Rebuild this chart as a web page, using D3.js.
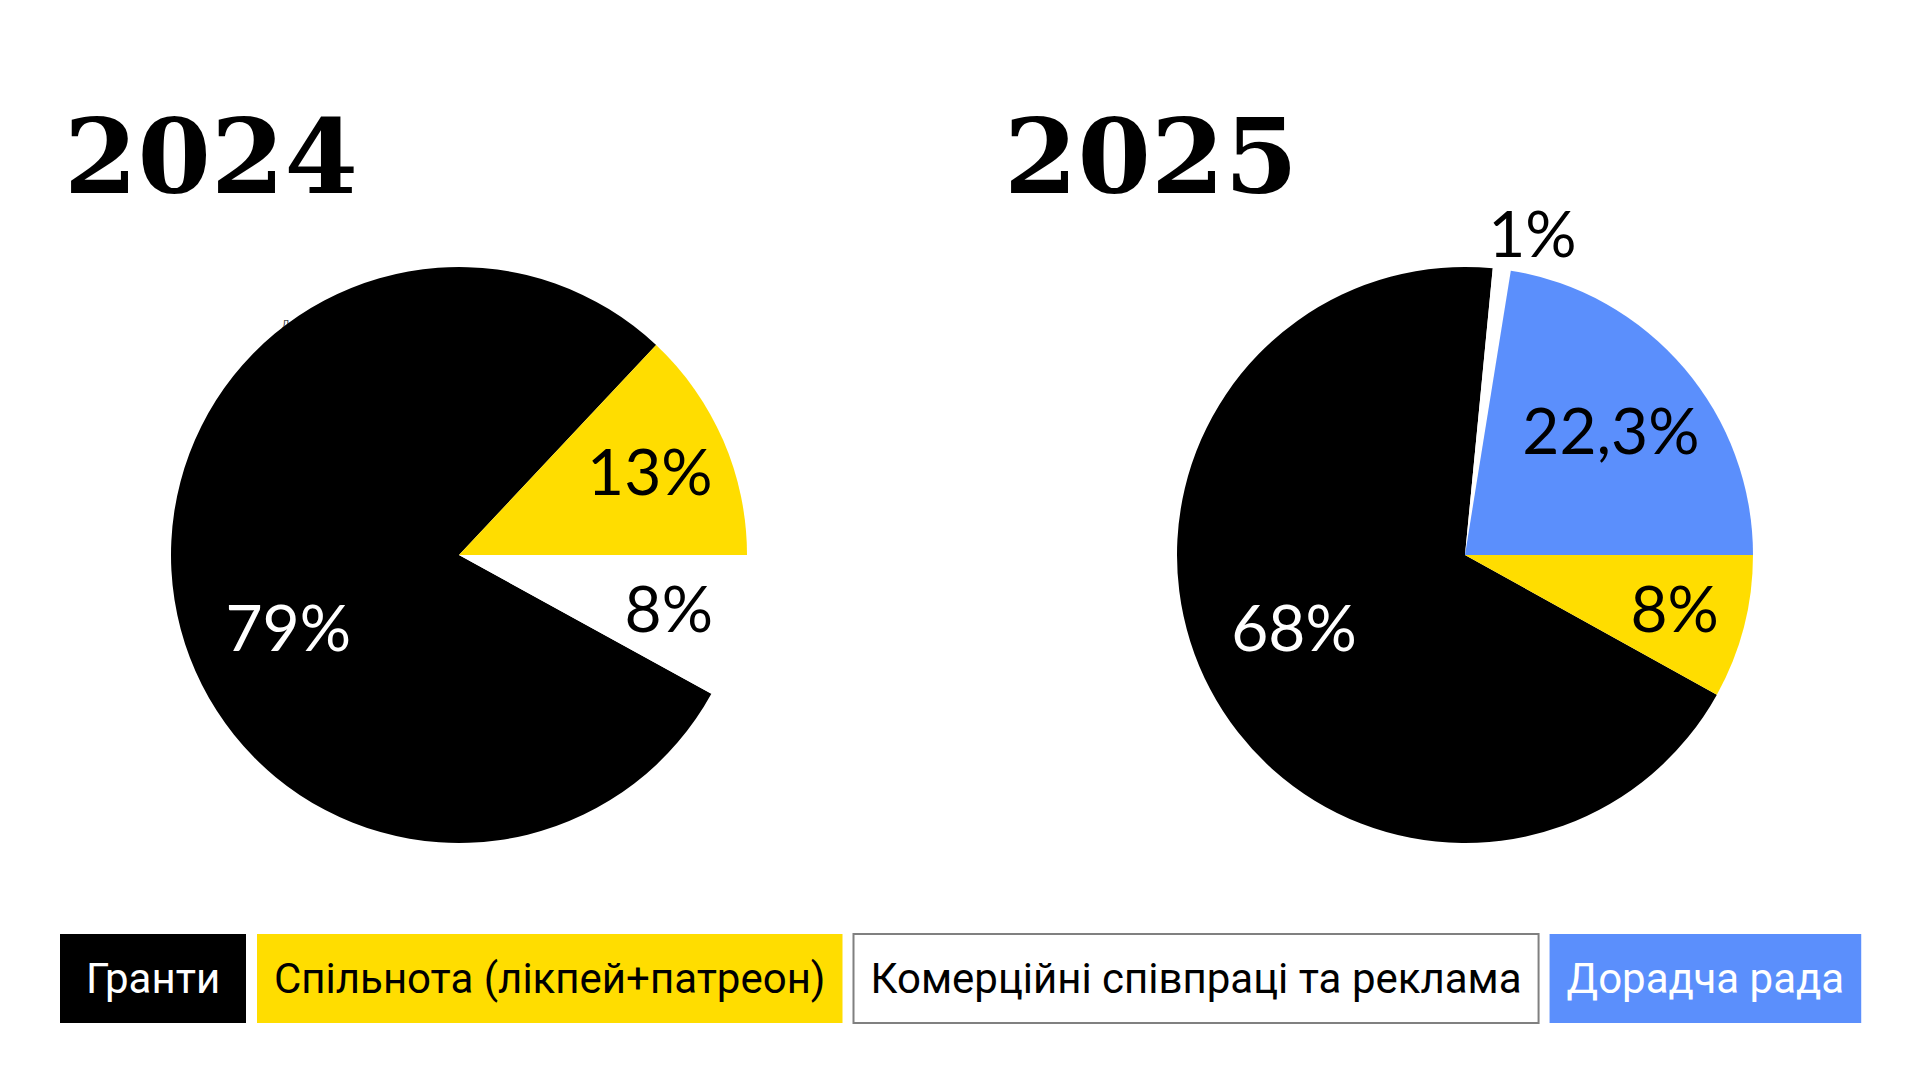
<!DOCTYPE html>
<html>
<head>
<meta charset="utf-8">
<script src="https://cdn.jsdelivr.net/npm/d3@7"></script>
<style>
    body { margin: 0; background: #ffffff; }
    svg { display: block; }
</style>
</head>
<body>
<div id="graph"></div>
<script>

// Données
const categories = ["Гранти", "Спільнота (лікпей+патреон)", "Комерційні співпраці та реклама", "Дорадча рада"];
const sliceColors = ["#000000", "#ffdd00", "#ffffff", "#5b8ffc"];
const legendTextColors = ["#ffffff", "#000000", "#000000", "#ffffff"];

const years = ["2024", "2025"];
const values2024 = [79, 13, 8, 0];
const values2025 = [68, 8, 1, 22.3];
const labels2024 = ["79%", "13%", "8%", ""];
const labels2025 = ["68%", "8%", "1%", "22,3%"];

// ordre des parts dans le sens horaire à partir de 3 heures
const order2024 = [2, 0, 1, 3];
const order2025 = [1, 0, 2, 3];

//---------------------------------------------------------------------------------------

// Canevas
const width = 1920;
const height = 1080;

const svg = d3.select("#graph")
    .append("svg")
    .attr("width", width)
    .attr("height", height)
    .attr("viewBox", [0, 0, width, height]);

const radius = 288;
const centerY = 555;
const centers = [459, 1465];
const titleX = [64, 1004];

const pies = [
    { year: years[0], values: values2024, labels: labels2024, order: order2024 },
    { year: years[1], values: values2025, labels: labels2025, order: order2025 }
];

// petit libellé résiduel à gauche du camembert 2024 (caché sous la part noire)
svg.append("text")
    .attr("x", 282)
    .attr("y", 328)
    .attr("font-family", "Roboto, sans-serif")
    .attr("font-size", 10)
    .attr("fill", "#444")
    .text("Дорадча рада");

//---------------------------------------------------------------------------------------

// Camemberts
const arc = d3.arc().innerRadius(0).outerRadius(radius);

pies.forEach((p, k) => {

    const tidy = p.values.map((v, i) => ({ i: i, value: v, label: p.labels[i] }));

    const pie = d3.pie()
        .value(d => d.value)
        .sort((a, b) => p.order.indexOf(a.i) - p.order.indexOf(b.i))
        .startAngle(Math.PI / 2)
        .endAngle(Math.PI / 2 + 2 * Math.PI);

    const arcs = pie(tidy);

    // titre (année)
    svg.append("text")
        .attr("x", titleX[k])
        .attr("y", 193)
        .attr("font-family", "'DejaVu Serif', serif")
        .attr("font-weight", "bold")
        .attr("font-size", 102)
        .attr("textLength", 294)
        .attr("lengthAdjust", "spacingAndGlyphs")
        .attr("fill", "#000")
        .text(p.year);

    const g = svg.append("g")
        .attr("transform", `translate(${centers[k]}, ${centerY})`);

    g.selectAll("path")
        .data(arcs.filter(d => d.data.value > 0))
        .join("path")
        .attr("d", arc)
        .attr("fill", d => sliceColors[d.data.i]);

    // étiquettes
    g.selectAll("text")
        .data(arcs.filter(d => d.data.label !== ""))
        .join("text")
        .attr("transform", d => {
            const share = (d.endAngle - d.startAngle) / (2 * Math.PI);
            let a, r;
            if (share > 0.5) {
                a = d.startAngle + 128 * Math.PI / 180;
                r = radius * 0.645;
            } else if (share < 0.03) {
                a = (d.startAngle + d.endAngle) / 2 + 4.5 * Math.PI / 180;
                r = radius * 1.14;
            } else {
                a = (d.startAngle + d.endAngle) / 2;
                r = radius * (0.8 - 0.6 * share);
            }
            return `translate(${Math.sin(a) * r}, ${-Math.cos(a) * r})`;
        })
        .attr("dy", "0.36em")
        .attr("text-anchor", "middle")
        .attr("font-family", "Lato, sans-serif")
        .attr("font-size", 64)
        .attr("fill", d => (d.data.i === 0 && (d.endAngle - d.startAngle) > Math.PI) ? "#ffffff" : "#000000")
        .text(d => d.data.label);
});

//---------------------------------------------------------------------------------------

// Légende
const legendY = 934;
const legendH = 89;
const legendGap = 11;
const legendPad = 17;
const legendMinW = 186;

const legend = svg.append("g");

const items = legend.selectAll("g")
    .data(categories)
    .join("g");

items.append("rect")
    .attr("height", legendH)
    .attr("fill", (d, i) => sliceColors[i])
    .attr("stroke", (d, i) => sliceColors[i] === "#ffffff" ? "#808080" : "none")
    .attr("stroke-width", 2);

items.append("text")
    .attr("y", legendH / 2)
    .attr("dy", "0.35em")
    .attr("text-anchor", "middle")
    .attr("font-family", "Roboto, sans-serif")
    .attr("font-size", 42)
    .attr("fill", (d, i) => legendTextColors[i])
    .text(d => d);

let cursor = 60;
items.each(function () {
    const item = d3.select(this);
    const w = Math.max(item.select("text").node().getComputedTextLength() + legendPad * 2, legendMinW);
    item.attr("transform", `translate(${cursor}, ${legendY})`);
    item.select("rect").attr("width", w);
    item.select("text").attr("x", w / 2);
    cursor += w + legendGap;
});

</script>
</body>
</html>
